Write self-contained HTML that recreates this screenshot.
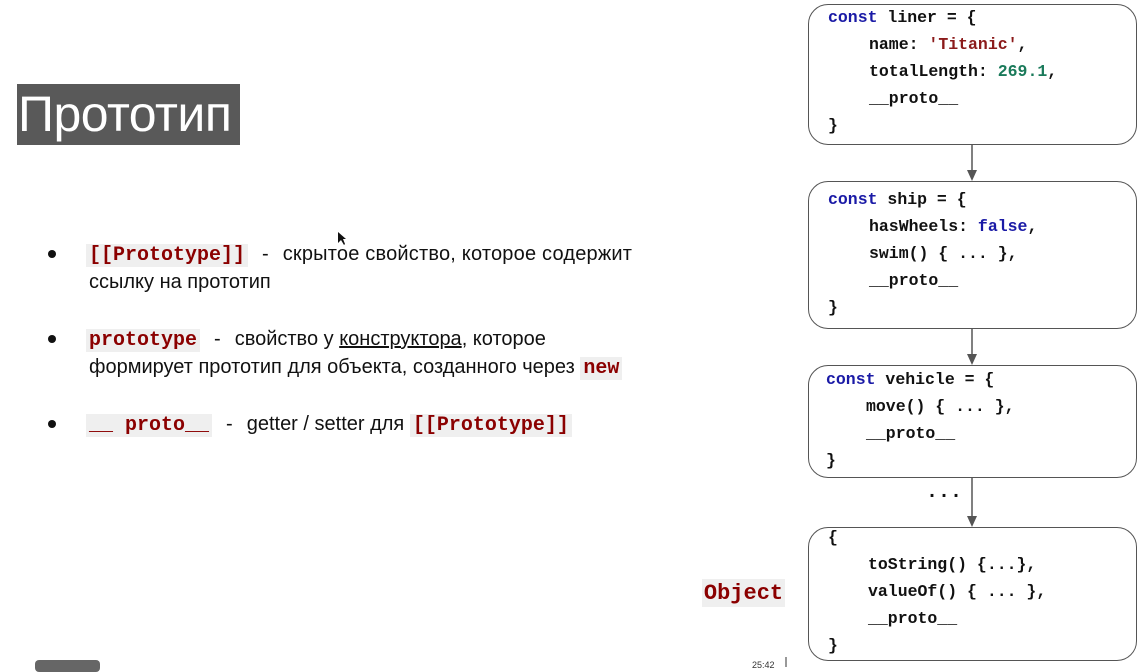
<!DOCTYPE html>
<html><head><meta charset="utf-8"><style>
body{margin:0;width:1147px;height:667px;background:#fff;position:relative;overflow:hidden;font-family:"Liberation Sans",sans-serif}
.a{position:absolute;white-space:nowrap}
.title{left:17px;top:84px;width:223px;height:61px;background:#595959;color:#fff;font-size:50px;line-height:61px;padding-left:1px;box-sizing:border-box;letter-spacing:-0.5px}
.box{position:absolute;left:808px;width:329px;border:1.5px solid #555;border-radius:20px;box-sizing:border-box}
.c{position:absolute;font-family:"Liberation Mono",monospace;font-weight:bold;font-size:16.5px;line-height:18px;color:#111;white-space:pre}
.k{color:#1a1aa6}.s{color:#8b1a1a}.n{color:#1a7a5a}
.b{font-size:20px;color:#111;line-height:28px}
.code{font-family:"Liberation Mono",monospace;font-weight:bold;color:#8b0000;background:#efefef;padding:0 3px}
.dot{position:absolute;width:8px;height:8px;border-radius:50%;background:#111}
.sp{display:inline-block;width:14px}
</style></head><body>
<div class="a title">Прототип</div>

<div class="dot" style="left:48px;top:250px"></div>
<div class="dot" style="left:48px;top:335px"></div>
<div class="dot" style="left:48px;top:420px"></div>
<div class="a b" style="left:86px;top:240px"><span class="code">[[Prototype]]</span><span class="sp"></span>-<span class="sp"></span><span style="letter-spacing:0.2px">скрытое свойство, которое содержит</span></div>
<div class="a b" style="left:89px;top:268px">ссылку на прототип</div>
<div class="a b" style="left:86px;top:325px"><span class="code">prototype</span><span class="sp"></span>-<span class="sp"></span>свойство у <u>конструктора</u>, которое</div>
<div class="a b" style="left:89px;top:353px">формирует прототип для объекта, созданного через <span class="code">new</span></div>
<div class="a b" style="left:86px;top:410px"><span class="code">__ proto__</span><span class="sp"></span>-<span class="sp"></span>getter / setter для <span class="code">[[Prototype]]</span></div>

<div class="box" style="top:4px;height:141px"></div>
<div class="c" style="left:828px;top:9px"><span class="k">const</span> liner = {</div>
<div class="c" style="left:869px;top:36px">name: <span class="s">'Titanic'</span>,</div>
<div class="c" style="left:869px;top:63px">totalLength: <span class="n">269.1</span>,</div>
<div class="c" style="left:869px;top:90px">__proto__</div>
<div class="c" style="left:828px;top:117px">}</div>

<div class="box" style="top:181px;height:148px"></div>
<div class="c" style="left:828px;top:191px"><span class="k">const</span> ship = {</div>
<div class="c" style="left:869px;top:218px">hasWheels: <span class="k">false</span>,</div>
<div class="c" style="left:869px;top:245px">swim() { ... },</div>
<div class="c" style="left:869px;top:272px">__proto__</div>
<div class="c" style="left:828px;top:299px">}</div>

<div class="box" style="top:365px;height:113px"></div>
<div class="c" style="left:826px;top:371px"><span class="k">const</span> vehicle = {</div>
<div class="c" style="left:866px;top:398px">move() { ... },</div>
<div class="c" style="left:866px;top:425px">__proto__</div>
<div class="c" style="left:826px;top:452px">}</div>

<div class="c" style="left:926px;top:484px;font-size:20px">...</div>

<div class="box" style="top:527px;height:134px"></div>
<div class="c" style="left:828px;top:529px">{</div>
<div class="c" style="left:868px;top:556px">toString() {...},</div>
<div class="c" style="left:868px;top:583px">valueOf() { ... },</div>
<div class="c" style="left:868px;top:610px">__proto__</div>
<div class="c" style="left:828px;top:637px">}</div>

<div class="a" style="left:702px;top:579px;width:83px;height:28px;background:#efefef;color:#8b0000;font-family:'Liberation Mono',monospace;font-weight:bold;font-size:22px;line-height:30px;text-align:center">Object</div>

<svg class="a" style="left:0;top:0" width="1147" height="667">
<g stroke="#555" stroke-width="1.5" fill="#555">
<line x1="972" y1="145" x2="972" y2="172"/><polygon points="967,170 977,170 972,181" stroke="none"/>
<line x1="972" y1="329" x2="972" y2="356"/><polygon points="967,354 977,354 972,365" stroke="none"/>
<line x1="972" y1="478" x2="972" y2="518"/><polygon points="967,516 977,516 972,527" stroke="none"/>
</g>
<path d="M338,232 L338,243 L341,240 L344,245 L345,244 L343,239 L346,239 Z" fill="#111"/>
<line x1="786" y1="657" x2="786" y2="667" stroke="#333"/>
</svg>
<div class="a" style="left:35px;top:660px;width:65px;height:12px;background:#666;border-radius:4px"></div>
<div class="a" style="left:752px;top:660px;font-size:9px;color:#333">25:42</div>
</body></html>
